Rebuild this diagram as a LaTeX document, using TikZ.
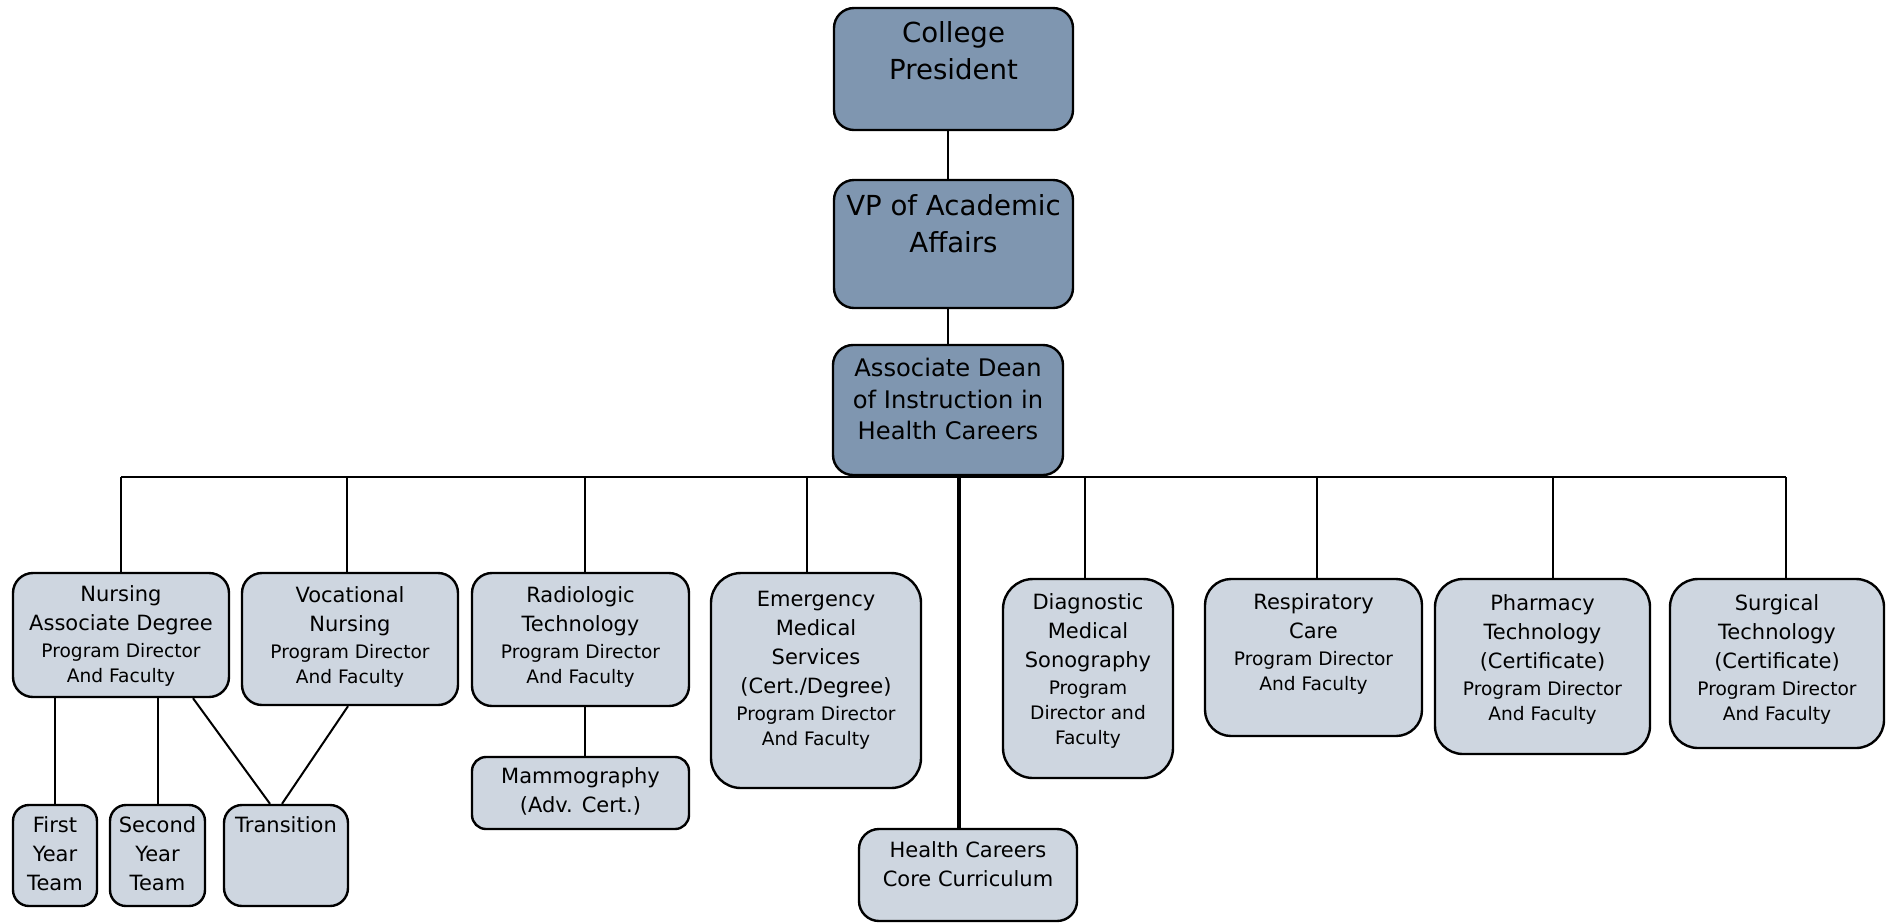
\documentclass[tikz,border=0pt]{standalone}
\usepackage{fontspec}
\setmainfont{DejaVu Sans}
\usepackage{xcolor}
\usepackage{tikz}
\usetikzlibrary{positioning}

\definecolor{topfill}{RGB}{127,150,176}
\definecolor{unitfill}{RGB}{206,214,224}

\newcommand{\smalltxt}[1]{{\fontsize{9.3}{12.5}\selectfont #1}}

\tikzset{
  topbox/.style={draw, line width=1.2pt, rounded corners=10pt, fill=topfill, inner sep=0pt},
  unitbox/.style={draw, line width=1.2pt, rounded corners=10pt, fill=unitfill, inner sep=0pt},
  toptext/.style={inner sep=0pt, align=center, font=\fontsize{13.8}{18.5}\selectfont},
  deantext/.style={inner sep=0pt, align=center, font=\fontsize{12.1}{15.8}\selectfont},
  unittext/.style={inner sep=0pt, align=center, font=\fontsize{10.5}{14.5}\selectfont},
  link/.style={line width=1pt}
}

\begin{document}
\begin{tikzpicture}[x=0.5pt, y=-0.5pt]
    \useasboundingbox (0,0) rectangle (1891,923);

    % Top of the chart
    \node[topbox, minimum width=119.5pt, minimum height=61pt] (pres) at (953.5,69) {};
    \node[toptext, below=7.3pt of pres.north] (prest) {College\\President};
    \node[topbox, minimum width=119.5pt, minimum height=64pt] (vp) at (953.5,244) {};
    \node[toptext, below=7.5pt of vp.north] (vpt) {VP of Academic\\Affairs};
    \node[topbox, minimum width=115pt, minimum height=65pt] (dean) at (948,410) {};
    \node[deantext, below=7pt of dean.north] (deant) {Associate Dean\\of Instruction in\\Health Careers};

    % Programs
    \node[unitbox, minimum width=108pt, minimum height=62pt] (nad) at (121,635) {};
    \node[unittext, below=6.5pt of nad.north] (nadt) {Nursing\\Associate Degree\\[-1pt]\smalltxt{Program Director}\\[-2pt]\smalltxt{And Faculty}};
    \node[unitbox, minimum width=108pt, minimum height=66pt] (voc) at (350,639) {};
    \node[unittext, below=7pt of voc.north] (voct) {Vocational\\Nursing\\[-1pt]\smalltxt{Program Director}\\[-2pt]\smalltxt{And Faculty}};
    \node[unitbox, minimum width=108.5pt, minimum height=66.5pt] (rad) at (580.5,639.5) {};
    \node[unittext, below=7pt of rad.north] (radt) {Radiologic\\Technology\\[-1pt]\smalltxt{Program Director}\\[-2pt]\smalltxt{And Faculty}};
    \node[unitbox, rounded corners=15pt, minimum width=105pt, minimum height=107.5pt] (ems) at (816,680.5) {};
    \node[unittext, below=9.5pt of ems.north] (emst) {Emergency\\Medical\\Services\\(Cert./Degree)\\[-1pt]\smalltxt{Program Director}\\[-2pt]\smalltxt{And Faculty}};
    \node[unitbox, rounded corners=15pt, minimum width=85pt, minimum height=99.5pt] (dms) at (1088,678.5) {};
    \node[unittext, below=7.5pt of dms.north] (dmst) {Diagnostic\\Medical\\Sonography\\[-1pt]\smalltxt{Program}\\[-2pt]\smalltxt{Director and}\\[-2pt]\smalltxt{Faculty}};
    \node[unitbox, rounded corners=13pt, minimum width=108.5pt, minimum height=78.5pt] (resp) at (1313.5,657.5) {};
    \node[unittext, below=7.5pt of resp.north] (respt) {Respiratory\\Care\\[-1pt]\smalltxt{Program Director}\\[-2pt]\smalltxt{And Faculty}};
    \node[unitbox, rounded corners=14pt, minimum width=107.5pt, minimum height=87.5pt] (pha) at (1542.5,666.5) {};
    \node[unittext, below=8pt of pha.north] (phat) {Pharmacy\\Technology\\(Certificate)\\[-1pt]\smalltxt{Program Director}\\[-2pt]\smalltxt{And Faculty}};
    \node[unitbox, rounded corners=14pt, minimum width=107pt, minimum height=84.5pt] (sur) at (1777,663.5) {};
    \node[unittext, below=8pt of sur.north] (surt) {Surgical\\Technology\\(Certificate)\\[-1pt]\smalltxt{Program Director}\\[-2pt]\smalltxt{And Faculty}};

    % Under the programs
    \node[unitbox, rounded corners=7pt, minimum width=108.5pt, minimum height=36pt] (mam) at (580.5,793) {};
    \node[unittext, below=5.5pt of mam.north] (mamt) {Mammography\\(Adv. Cert.)};
    \node[unitbox, minimum width=109pt, minimum height=46pt] (core) at (968,875) {};
    \node[unittext, below=6.5pt of core.north] (coret) {Health Careers\\Core Curriculum};
    \node[unitbox, rounded corners=8pt, minimum width=42pt, minimum height=50.5pt] (fyt) at (55,855.5) {};
    \node[unittext, below=6pt of fyt.north] (fytt) {First\\Year\\Team};
    \node[unitbox, rounded corners=8pt, minimum width=47.5pt, minimum height=50.5pt] (syt) at (157.5,855.5) {};
    \node[unittext, below=6pt of syt.north] (sytt) {Second\\Year\\Team};
    \node[unitbox, rounded corners=9pt, minimum width=62pt, minimum height=50.5pt] (tra) at (286,855.5) {};
    \node[unittext, below=6pt of tra.north] (trat) {Transition};

    % Connectors
    \coordinate (bus) at (948,477);
    \draw[link] (pres.south -| dean) -- (vp.north -| dean);
    \draw[link] (vp.south -| dean) -- (dean.north);
    \draw[link] (dean.south) -- (bus);
    \draw[link] (nad.north |- bus) -- ([xshift=4.5pt]sur.north |- bus);
    \foreach \u/\dx in {nad/0,voc/-1.5,rad/2,ems/-4.5,dms/-1.5,resp/1.75,pha/5,sur/4.5} {
        \draw[link] ([xshift=\dx pt]\u.north) -- ([xshift=\dx pt]\u.north |- bus);
    }
    \draw[line width=1.6pt] ([xshift=-4.5pt]core.north) -- ([xshift=-4.5pt]core.north |- bus);
    \draw[link] ([xshift=2pt]rad.south) -- ([xshift=2pt]mam.north);
    \draw[link] (fyt.north) -- (fyt.north |- nad.south);
    \draw[link] (syt.north) -- (syt.north |- nad.south);
    \draw[link] ([xshift=36pt]nad.south) -- ([xshift=-8pt]tra.north);
    \draw[link] ([xshift=-1pt]voc.south) -- ([xshift=-2pt]tra.north);
\end{tikzpicture}
\end{document}
